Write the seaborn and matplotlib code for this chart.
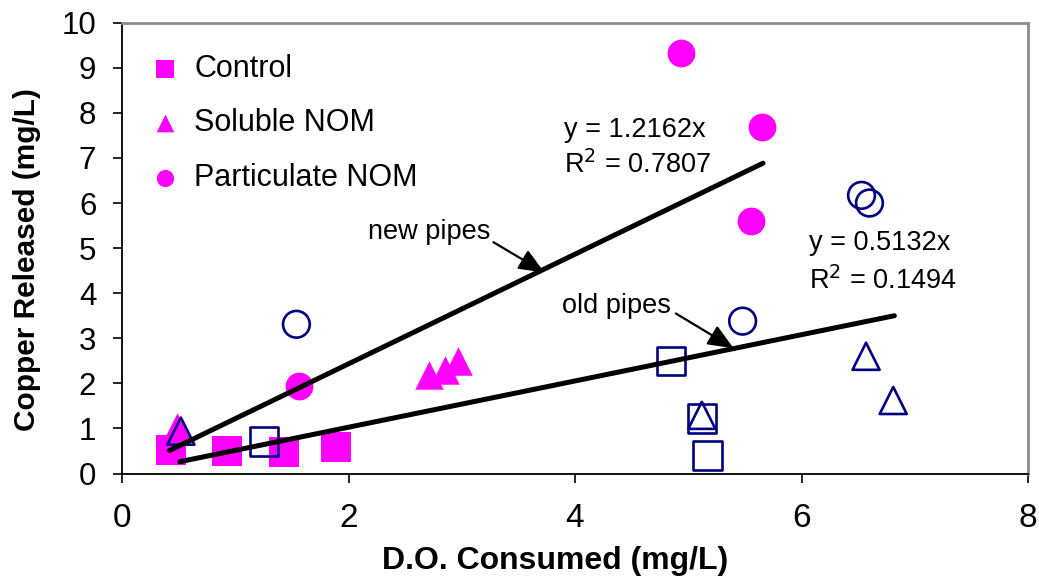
import matplotlib
matplotlib.use("Agg")
import matplotlib.pyplot as plt
import seaborn as sns

# ---------------- data ----------------
# new pipes (filled magenta)
new_control_x = [0.43, 0.93, 1.43, 1.89]
new_control_y = [0.53, 0.49, 0.47, 0.58]
new_soluble_x = [0.49, 2.71, 2.85, 2.97]
new_soluble_y = [1.04, 2.18, 2.29, 2.49]
new_partic_x = [1.56, 4.94, 5.65, 5.55]
new_partic_y = [1.93, 9.33, 7.69, 5.61]
# old pipes (open navy)
old_control_x = [1.25, 4.85, 5.12, 5.17]
old_control_y = [0.71, 2.49, 1.22, 0.40]
old_soluble_x = [0.52, 5.12, 6.57, 6.81]
old_soluble_y = [0.94, 1.29, 2.60, 1.62]
old_partic_x = [1.54, 5.48, 6.53, 6.60]
old_partic_y = [3.31, 3.38, 6.17, 6.00]
# linear fits through origin
new_slope, new_r2 = 1.2162, 0.7807
old_slope, old_r2 = 0.5132, 0.1494
new_fit_x = [0.42, 5.66]
old_fit_x = [0.51, 6.82]

legend_labels = ["Control", "Soluble NOM", "Particulate NOM"]
x_ticks = [0, 2, 4, 6, 8]
y_ticks = list(range(0, 11))

# ---------------- style ----------------
sns.set_theme(style="white")
plt.rcParams["font.family"] = ["Liberation Sans", "DejaVu Sans"]
for k in ["text.color", "axes.labelcolor", "xtick.color", "ytick.color"]:
    plt.rcParams[k] = "black"

MAG = "#FF00FF"
NAVY = "#000080"

fig = plt.figure(figsize=(10.39, 5.80), dpi=100)
ax = fig.add_axes([122 / 1039, 1 - 473.5 / 580, (1028 - 122) / 1039, (473.5 - 22.7) / 580])

S_SQ, S_CI, S_TR = 470, 400, 420

# filled (new pipes)
sns.scatterplot(x=new_control_x, y=new_control_y, marker="s", s=S_SQ, color=MAG,
                edgecolor=MAG, linewidth=0, ax=ax, zorder=3, label=legend_labels[0])
sns.scatterplot(x=new_soluble_x, y=new_soluble_y, marker="^", s=S_TR, color=MAG,
                edgecolor=MAG, linewidth=0, ax=ax, zorder=3, label=legend_labels[1])
sns.scatterplot(x=new_partic_x, y=new_partic_y, marker="o", s=S_CI, color=MAG,
                edgecolor=MAG, linewidth=0, ax=ax, zorder=3, label=legend_labels[2])
handles = list(ax.collections[:3])

# open (old pipes)
for xs, ys, mk, sz in [(old_control_x, old_control_y, "s", S_SQ - 60),
                       (old_soluble_x, old_soluble_y, "^", S_TR - 40),
                       (old_partic_x, old_partic_y, "o", S_CI - 30)]:
    sns.scatterplot(x=xs, y=ys, marker=mk, s=sz, facecolor="none",
                    edgecolor=NAVY, linewidth=1.9, ax=ax, zorder=4, legend=False)

# trend lines
sns.lineplot(x=new_fit_x, y=[new_slope * v for v in new_fit_x], color="black",
             linewidth=3.6, ax=ax, zorder=5, solid_capstyle="round", legend=False)
sns.lineplot(x=old_fit_x, y=[old_slope * v for v in old_fit_x], color="black",
             linewidth=3.6, ax=ax, zorder=5, solid_capstyle="round", legend=False)

# annotations
ann_fs = 19.5
ax.text(3.90, 7.62, f"y = {new_slope}x", fontsize=ann_fs, ha="left", va="center")
ax.text(3.90, 6.84, f"R$^2$ = {new_r2}", fontsize=ann_fs, ha="left", va="center")
ax.text(6.07, 5.11, f"y = {old_slope}x", fontsize=ann_fs, ha="left", va="center")
ax.text(6.07, 4.27, f"R$^2$ = {old_r2}", fontsize=ann_fs, ha="left", va="center")

arrow = dict(arrowstyle="-|>,head_length=1.3,head_width=0.55", color="black", lw=1.6,
             shrinkA=0, shrinkB=0)
ax.annotate("", xy=(3.73, 4.46), xytext=(3.28, 5.13), arrowprops=arrow, zorder=6)
ax.text(2.71, 5.35, "new pipes", fontsize=ann_fs, ha="center", va="center")
ax.annotate("", xy=(5.40, 2.78), xytext=(4.89, 3.55), arrowprops=arrow, zorder=6)
ax.text(4.37, 3.71, "old pipes", fontsize=ann_fs, ha="center", va="center")

# axes
ax.set_xlim(0, 8)
ax.set_ylim(0, 10)
ax.set_xticks(x_ticks)
ax.set_yticks(y_ticks)
ax.tick_params(axis="x", direction="out", length=6.5, width=1.2, color="black",
               labelsize=24, pad=15, bottom=True)
ax.tick_params(axis="y", direction="out", length=6.5, width=1.2, color="black",
               labelsize=22.5, pad=12, left=True)
for side in ["left", "bottom"]:
    ax.spines[side].set_color("black")
    ax.spines[side].set_linewidth(1.3)
for side in ["top", "right"]:
    ax.spines[side].set_color("#8c8c8c")
    ax.spines[side].set_linewidth(2.0)

ax.set_xlabel("D.O. Consumed (mg/L)", fontsize=23, fontweight="bold")
ax.set_ylabel("Copper Released (mg/L)", fontsize=21.5, fontweight="bold")
ax.xaxis.set_label_coords((555 - 122) / 906, -(561 - 473.5) / 450.8)
ax.yaxis.set_label_coords(-(122 - 27) / 906, (473.5 - 260) / 450.8)
ax.xaxis.label.set_va("center")
ax.yaxis.label.set_va("center")

ax.legend(handles=handles, labels=legend_labels, loc="upper left",
          bbox_to_anchor=(0.031, 1 - 31 / 450), frameon=False, fontsize=22,
          markerscale=0.62, handlelength=1.0, handletextpad=0.45,
          labelspacing=0.8, borderpad=0, borderaxespad=0, scatterpoints=1)

fig.savefig("out.png", dpi=100)
